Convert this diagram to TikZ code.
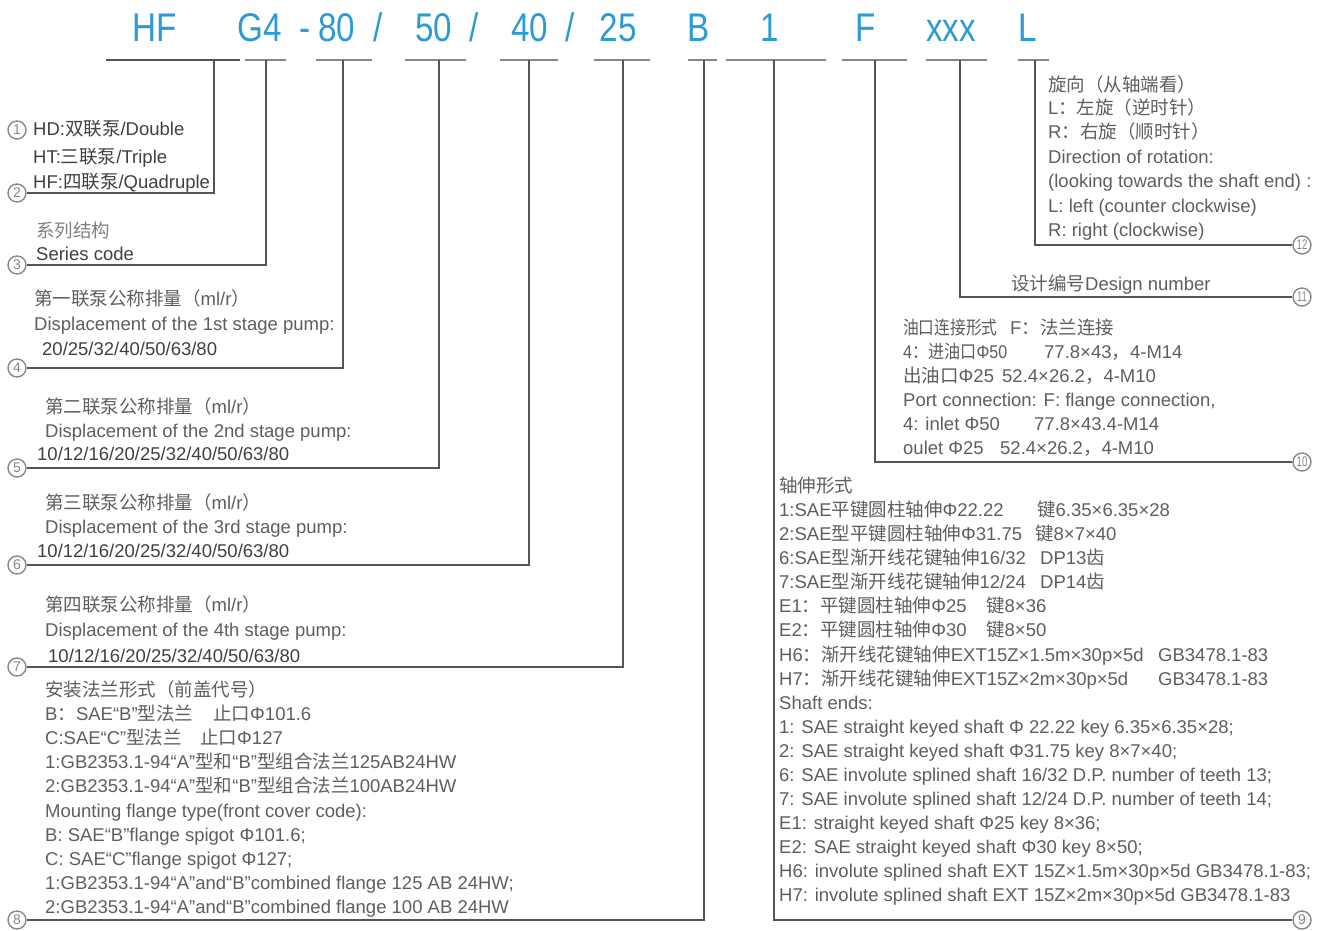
\documentclass[tikz,border=0pt]{standalone}
\usepackage{fontspec}
\setmainfont{Liberation Sans}
\newfontfamily\cjk{Noto Sans CJK SC}
\newcommand\zh[1]{{\cjk #1}}
\definecolor{hblue}{HTML}{2B9AD6}
\definecolor{txg}{HTML}{5E5E5E}
\definecolor{txd}{HTML}{404040}
\definecolor{txl}{HTML}{808080}
\definecolor{lng}{HTML}{555555}
\definecolor{barg}{HTML}{878787}
\definecolor{numg}{HTML}{888888}
\begin{document}
\begin{tikzpicture}[x=1pt,y=-1pt,
  hd/.style={text=hblue, font=\fontsize{40}{40}\selectfont, inner sep=0, text height=29pt, text depth=0pt},
  tx/.style={anchor=west, inner sep=0, text=txg, font=\fontsize{18.5}{20}\selectfont, text height=13pt, text depth=0pt},
  txdk/.style={tx, text=txd},
  txlt/.style={tx, text=txl},
  num/.style={circle, draw=numg, line width=1.4pt, minimum size=18pt, inner sep=0, text=numg, font=\fontsize{14}{14}\selectfont},
  ln/.style={draw=lng, line width=2.8pt},
  bar/.style={draw=barg, line width=2.4pt},
]
\useasboundingbox (0,0) rectangle (1326,930);

% ---------- header ----------
\node[hd] (hHF) at (155,27) {\scalebox{0.83}[1]{HF}};
\node[hd] (hG4) at (260,27) {\scalebox{0.83}[1]{G4}};
\node[hd] (hdash) at (305,27) {\scalebox{0.83}[1]{-}};
\node[hd] (h80) at (337,27) {\scalebox{0.83}[1]{80}};
\node[hd] (hs1) at (378,27) {\scalebox{0.83}[1]{/}};
\node[hd] (h50) at (434,27) {\scalebox{0.83}[1]{50}};
\node[hd] (hs2) at (474,27) {\scalebox{0.83}[1]{/}};
\node[hd] (h40) at (530,27) {\scalebox{0.83}[1]{40}};
\node[hd] (hs3) at (570,27) {\scalebox{0.83}[1]{/}};
\node[hd] (h25) at (618,27) {\scalebox{0.83}[1]{25}};
\node[hd] (hB) at (699,27) {\scalebox{0.83}[1]{B}};
\node[hd] (h1) at (770,27) {\scalebox{0.83}[1]{1}};
\node[hd] (hF) at (866,27) {\scalebox{0.83}[1]{F}};
\node[hd] (hx) at (951,27) {\scalebox{0.83}[1]{xxx}};
\node[hd] (hL) at (1028,27) {\scalebox{0.83}[1]{L}};

% header bars
\draw[draw=lng, line width=2.8pt] (106,60) -- (240,60);
\draw[bar] (245,60) -- (286,60);
\draw[bar] (316,60) -- (372,60);
\draw[bar] (405,60) -- (466,60);
\draw[bar] (500,60) -- (558,60);
\draw[bar] (594,60) -- (650,60);
\draw[bar] (688,60) -- (717,60);
\draw[bar] (726,60) -- (826,60);
\draw[bar] (842,60) -- (907,60);
\draw[bar] (926,60) -- (987,60);
\draw[bar] (1018,60) -- (1049,60);

\coordinate (pHF) at (214,60);
\coordinate (pG4) at (266,60);
\coordinate (p80) at (343,60);
\coordinate (p50) at (439,60);
\coordinate (p40) at (529,60);
\coordinate (p25) at (623,60);
\coordinate (pB) at (704,60);
\coordinate (p1) at (774,60);
\coordinate (pF) at (875,60);
\coordinate (px) at (960,60);
\coordinate (pL) at (1035,60);

% ---------- circled numbers ----------
\node[num] (c1) at (17,130) {1};
\node[num] (c2) at (17,193) {2};
\node[num] (c3) at (17,265) {3};
\node[num] (c4) at (17,368) {4};
\node[num] (c5) at (17,468) {5};
\node[num] (c6) at (17,565) {6};
\node[num] (c7) at (17,667) {7};
\node[num] (c8) at (17,920) {8};
\node[num] (c9) at (1302,920) {9};
\node[num] (c10) at (1302,462) {\scalebox{0.68}[1]{10}};
\node[num] (c11) at (1302,297) {\scalebox{0.68}[1]{11}};
\node[num] (c12) at (1302,245) {\scalebox{0.68}[1]{12}};

% ---------- connectors ----------
\draw[ln] (pHF) |- (c2);
\draw[ln] (pG4) |- (c3);
\draw[ln] (p80) |- (c4);
\draw[ln] (p50) |- (c5);
\draw[ln] (p40) |- (c6);
\draw[ln] (p25) |- (c7);
\draw[ln] (pB) |- (c8);
\draw[ln] (p1) |- (c9);
\draw[ln] (pF) |- (c10);
\draw[ln] (px) |- (c11);
\draw[ln] (pL) |- (c12);

% ---------- left texts ----------
\node[txdk] (a1) at (33,129) {HD:\zh{双联泵}/Double};
\node[txdk] (a2) at (33,157) {HT:\zh{三联泵}/Triple};
\node[txdk] (a3) at (33,182) {HF:\zh{四联泵}/Quadruple};

\node[txlt] (b1) at (36,231) {\zh{系列结构}};
\node[txdk] (b2) at (36,254) {Series code};

\node[tx] (d1) at (34,299) {\zh{第一联泵公称排量（}ml/r\zh{）}};
\node[tx] (d2) at (34,324) {Displacement of the 1st stage pump:};
\node[txdk] (d3) at (42,349) {20/25/32/40/50/63/80};

\node[tx] (e1) at (45,407) {\zh{第二联泵公称排量（}ml/r\zh{）}};
\node[tx] (e2) at (45,431) {Displacement of the 2nd stage pump:};
\node[txdk] (e3) at (37,454) {10/12/16/20/25/32/40/50/63/80};

\node[tx] (f1) at (45,503) {\zh{第三联泵公称排量（}ml/r\zh{）}};
\node[tx] (f2) at (45,527) {Displacement of the 3rd stage pump:};
\node[txdk] (f3) at (37,551) {10/12/16/20/25/32/40/50/63/80};

\node[tx] (g1) at (45,605) {\zh{第四联泵公称排量（}ml/r\zh{）}};
\node[tx] (g2) at (45,630) {Displacement of the 4th stage pump:};
\node[txdk] (g3) at (48,656) {10/12/16/20/25/32/40/50/63/80};

\node[tx] (k1) at (45,690) {\zh{安装法兰形式（前盖代号）}};
\node[tx] (k2) at (45,714) {B\zh{：}SAE“B”\zh{型法兰}};
\node[tx] (k2b) at (213,714) {\zh{止口}Φ101.6};
\node[tx] (k3) at (45,738) {C:SAE“C”\zh{型法兰}};
\node[tx] (k3b) at (200,738) {\zh{止口}Φ127};
\node[tx] (k4) at (45,762) {1:GB2353.1-94“A”\zh{型和}“B”\zh{型组合法兰}125AB24HW};
\node[tx] (k5) at (45,786) {2:GB2353.1-94“A”\zh{型和}“B”\zh{型组合法兰}100AB24HW};
\node[tx] (k6) at (45,811) {Mounting flange type(front cover code):};
\node[tx] (k7) at (45,835) {B: SAE“B”flange spigot Φ101.6;};
\node[tx] (k8) at (45,859) {C: SAE“C”flange spigot Φ127;};
\node[tx] (k9) at (45,883) {1:GB2353.1-94“A”and“B”combined flange 125 AB 24HW;};
\node[tx] (k10) at (45,907) {2:GB2353.1-94“A”and“B”combined flange 100 AB 24HW};

% ---------- right texts ----------
\node[tx] (r1) at (1048,85) {\zh{旋向（从轴端看）}};
\node[tx] (r2) at (1048,108) {L\zh{：左旋（逆时针）}};
\node[tx] (r3) at (1048,132) {R\zh{：右旋（顺时针）}};
\node[tx] (r4) at (1048,157) {Direction of rotation:};
\node[tx] (r5) at (1048,181) {(looking towards the shaft end) :};
\node[tx] (r6) at (1048,206) {L: left (counter clockwise)};
\node[tx] (r7) at (1048,230) {R: right (clockwise)};

\node[tx] (s1) at (1011,284) {\zh{设计编号}Design number};

\node[tx] (u1) at (903,328) {\scalebox{0.85}[1]{\zh{油口连接形式}}};
\node[tx] (u1b) at (1010,328) {F\zh{：法兰连接}};
\node[tx] (u2) at (903,352) {\scalebox{0.87}[1]{4\zh{：进油口}Φ50}};
\node[tx] (u2b) at (1044,352) {77.8×43\zh{，}4-M14};
\node[tx] (u3) at (903,376) {\zh{出油口}Φ25};
\node[tx] (u3b) at (1002,376) {52.4×26.2\zh{，}4-M10};
\node[tx] (u4) at (903,400) {Port connection: F: flange connection,};
\node[tx] (u5) at (903,424) {4: inlet Φ50};
\node[tx] (u5b) at (1034,424) {77.8×43.4-M14};
\node[tx] (u6) at (903,448) {oulet Φ25};
\node[tx] (u6b) at (1000,448) {52.4×26.2\zh{，}4-M10};

\node[tx] (v1) at (779,486) {\zh{轴伸形式}};
\node[tx] (v2) at (779,510) {1:SAE\zh{平键圆柱轴伸}Φ22.22};
\node[tx] (v2b) at (1037,510) {\zh{键}6.35×6.35×28};
\node[tx] (v3) at (779,534) {2:SAE\zh{型平键圆柱轴伸}Φ31.75};
\node[tx] (v3b) at (1035,534) {\zh{键}8×7×40};
\node[tx] (v4) at (779,558) {6:SAE\zh{型渐开线花键轴伸}16/32};
\node[tx] (v4b) at (1040,558) {DP13\zh{齿}};
\node[tx] (v5) at (779,582) {7:SAE\zh{型渐开线花键轴伸}12/24};
\node[tx] (v5b) at (1040,582) {DP14\zh{齿}};
\node[tx] (v6) at (779,606) {E1\zh{：平键圆柱轴伸}Φ25};
\node[tx] (v6b) at (986,606) {\zh{键}8×36};
\node[tx] (v7) at (779,630) {E2\zh{：平键圆柱轴伸}Φ30};
\node[tx] (v7b) at (986,630) {\zh{键}8×50};
\node[tx] (v8) at (779,655) {H6\zh{：渐开线花键轴伸}EXT15Z×1.5m×30p×5d};
\node[tx] (v8b) at (1158,655) {GB3478.1-83};
\node[tx] (v9) at (779,679) {H7\zh{：渐开线花键轴伸}EXT15Z×2m×30p×5d};
\node[tx] (v9b) at (1158,679) {GB3478.1-83};
\node[tx] (w1) at (779,703) {Shaft ends:};
\node[tx] (w2) at (779,727) {1: SAE straight keyed shaft Φ 22.22 key 6.35×6.35×28;};
\node[tx] (w3) at (779,751) {2: SAE straight keyed shaft Φ31.75 key 8×7×40;};
\node[tx] (w4) at (779,775) {6: SAE involute splined shaft 16/32 D.P. number of teeth 13;};
\node[tx] (w5) at (779,799) {7: SAE involute splined shaft 12/24 D.P. number of teeth 14;};
\node[tx] (w6) at (779,823) {E1: straight keyed shaft Φ25 key 8×36;};
\node[tx] (w7) at (779,847) {E2: SAE straight keyed shaft Φ30 key 8×50;};
\node[tx] (w8) at (779,871) {H6: involute splined shaft EXT 15Z×1.5m×30p×5d GB3478.1-83;};
\node[tx] (w9) at (779,895) {H7: involute splined shaft EXT 15Z×2m×30p×5d GB3478.1-83};
\end{tikzpicture}
\end{document}
